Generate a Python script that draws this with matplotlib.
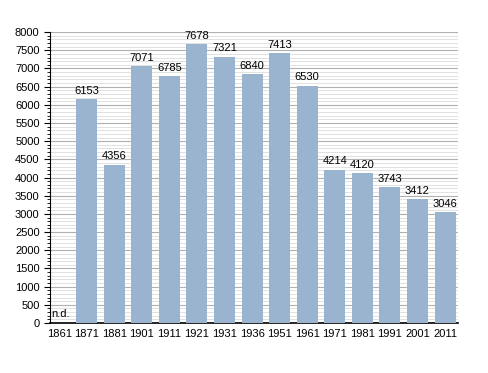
import numpy as np
import matplotlib.pyplot as plt
from matplotlib.ticker import MultipleLocator

plt.rcParams['font.family'] = ['Liberation Sans', 'DejaVu Sans']

years = ["1861", "1871", "1881", "1901", "1911", "1921", "1931", "1936",
         "1951", "1961", "1971", "1981", "1991", "2001", "2011"]
population = [np.nan, 6153, 4356, 7071, 6785, 7678, 7321, 6840,
              7413, 6530, 4214, 4120, 3743, 3412, 3046]

fig = plt.figure(figsize=(4.88, 3.73), dpi=100)
ax = fig.add_axes([0.1025, 0.134, 0.836, 0.78])

x = np.arange(len(years))
vals = np.nan_to_num(np.array(population, dtype=float))
ax.bar(x, vals, width=0.76, color="#9ab3cf", zorder=3)

for xi, v in zip(x, population):
    if np.isnan(v):
        ax.text(xi - 0.3, 120, "n.d.", fontsize=8, ha="left", va="bottom", zorder=4)
    else:
        ax.text(xi, v + 90, f"{int(v)}", fontsize=8, ha="center", va="bottom", zorder=4)

ax.set_xlim(-0.33, len(years) - 0.53)
ax.set_ylim(0, 8000)
ax.set_xticks(x)
ax.set_xticklabels(years, fontsize=8)
ax.yaxis.set_major_locator(MultipleLocator(500))
ax.yaxis.set_minor_locator(MultipleLocator(100))
ax.tick_params(axis="y", labelsize=8, length=4, width=0.8, direction="out")
ax.tick_params(axis="y", which="minor", length=2, width=0.6)
ax.tick_params(axis="x", length=0, pad=4)

ax.grid(axis="y", which="major", color="#b0b0b0", linewidth=0.8, zorder=0)
ax.grid(axis="y", which="minor", color="#dcdcdc", linewidth=0.6, zorder=0)

for s in ["top", "right"]:
    ax.spines[s].set_visible(False)
ax.spines["left"].set_linewidth(0.8)
ax.spines["bottom"].set_linewidth(1.2)

fig.savefig("out.png", dpi=100)
